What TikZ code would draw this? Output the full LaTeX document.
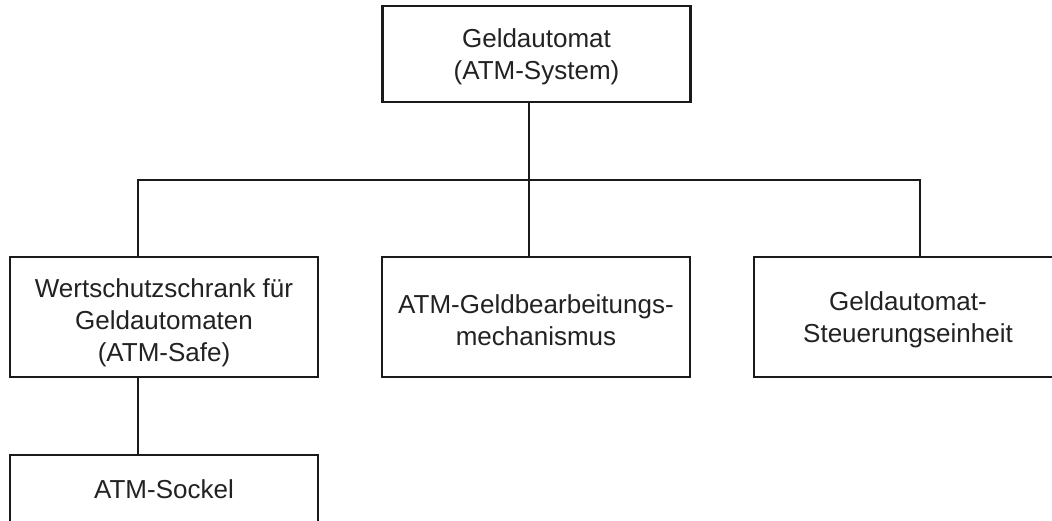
\documentclass[tikz,border=0pt]{standalone}
\usepackage{fontspec}
\setmainfont{Liberation Sans}
\definecolor{linec}{HTML}{1A1A1A}
\definecolor{textc}{HTML}{222222}
\newcommand{\lowr}[1]{\rule{0pt}{#1}}
\tikzset{
  boxnode/.style={draw=linec, line width=2.6pt, rectangle, inner sep=0pt,
    minimum width=308pt, minimum height=120pt, align=center, text=textc,
    font=\fontsize{26}{32}\selectfont},
  conn/.style={draw=linec, line width=2.6pt},
}
\begin{document}
\begin{tikzpicture}[x=1pt, y=-1pt]
\clip (0,0) rectangle (1052,520);
\fill[white] (0,0) rectangle (1052,520);
\node[boxnode, minimum height=96pt] (top) at (536.5,54) {\lowr{25pt}Geldautomat\\(ATM-System)};
\node[boxnode] (safe) at (164,317) {\lowr{31pt}Wertschutzschrank für\\Geldautomaten\\(ATM-Safe)};
\node[boxnode] (mech) at (536,317) {\lowr{25pt}ATM-Geldbearbeitungs-\\mechanismus};
\node[boxnode] (ctrl) at (908,317) {\lowr{25pt}Geldautomat-\\Steuerungseinheit};
\node[boxnode, minimum height=69pt] (sockel) at (164,489.5) {ATM-Sockel};
\coordinate (ht) at (529,180);
\coordinate (bl) at (138,180);
\coordinate (br) at (920,180);
\draw[conn] (top.south -| ht) -- (ht);
\draw[conn] (safe.north -| bl) -- (bl) -- (br) -- (ctrl.north -| br);
\draw[conn] (ht) -- (mech.north -| ht);
\draw[conn] (safe.south -| bl) -- (sockel.north -| bl);
\end{tikzpicture}
\end{document}
